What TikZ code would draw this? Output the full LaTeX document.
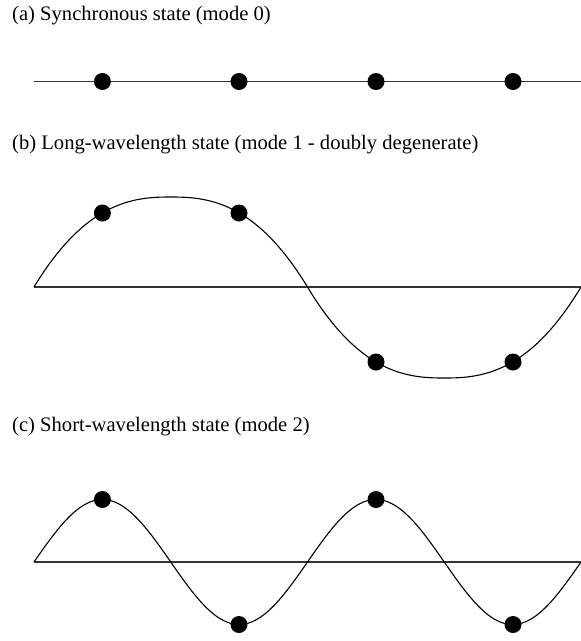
\documentclass[tikz,border=0pt]{standalone}
\usepackage{fontspec}
\setmainfont{Liberation Serif}
\begin{document}
\begin{tikzpicture}[x=1pt,y=-1pt,
  dot/.style={circle,fill=black,inner sep=0pt,minimum size=17pt},
  lbl/.style={anchor=base west,inner sep=0pt,font=\fontsize{20.6}{24}\selectfont},
  axis/.style={line width=1.3pt,black!80},
  wave/.style={line width=1.1pt,black}]
\useasboundingbox (0,0) rectangle (581,641);
% labels
\node[lbl] (ta) at (12,20) {(a) Synchronous state (mode 0)};
\node[lbl] (tb) at (12,149) {(b) Long-wavelength state (mode 1 - doubly degenerate)};
\node[lbl] (tc) at (12,431) {(c) Short-wavelength state (mode 2)};
% (a)
\coordinate (a0) at (34,81.5);
\coordinate (a1) at (581,81.5);
\draw[axis] (a0) -- (a1);
\node[dot] (da1) at (102.4,81.5) {};
\node[dot] (da2) at (239,81.5) {};
\node[dot] (da3) at (376,81.5) {};
\node[dot] (da4) at (513,81.5) {};
% (b)
\coordinate (b0) at (34,287);
\coordinate (bm) at (307.5,287);
\coordinate (b1) at (581,287);
\draw[axis] (b0) -- (b1);
\draw[wave] (b0) -- plot[domain=-1:1,samples=100]
  ({34+(1+\x)/2*273.5},{287-90*(1-\x*\x*sqrt(abs(\x)))}) -- (bm)
  -- plot[domain=-1:1,samples=100]
  ({307.5+(1+\x)/2*273.5},{287+91*(1-\x*\x*sqrt(abs(\x)))}) -- (b1);
\node[dot] (db1) at (102.4,213) {};
\node[dot] (db2) at (239,213) {};
\node[dot] (db3) at (376,362) {};
\node[dot] (db4) at (513,362) {};
% (c)
\coordinate (c0) at (34,562);
\coordinate (c1) at (581,562);
\draw[axis] (c0) -- (c1);
\draw[wave] plot[domain=0:720,samples=241]
  ({34+\x/360*273.5},{562-62.5*sin(\x)});
\node[dot] (dc1) at (102.4,499.5) {};
\node[dot] (dc2) at (239,624.5) {};
\node[dot] (dc3) at (376,499.5) {};
\node[dot] (dc4) at (513,624.5) {};
\end{tikzpicture}
\end{document}
